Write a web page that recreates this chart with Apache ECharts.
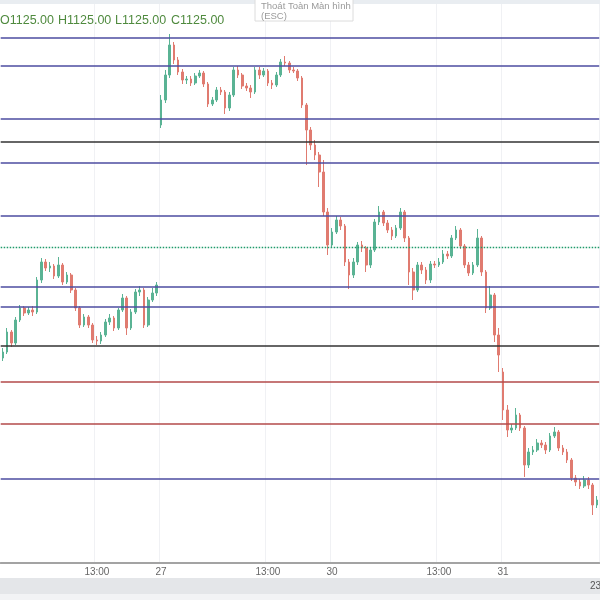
<!DOCTYPE html>
<html><head><meta charset="utf-8">
<script src="https://cdn.jsdelivr.net/npm/echarts@6/dist/echarts.min.js"></script>
<style>html,body{margin:0;padding:0;background:#fff}#c{width:600px;height:600px}</style>
</head><body><div id="c"></div>
<script>
// ---- categories: 6-minute candles, sessions 09:00-11:30 and 13:00-14:30
const dayNames = ['26', '27', '30', '31'];
const morningSlots = 25, afternoonSlots = 15, slotMinutes = 6;
const firstSlotDay26 = 3, lastSlotDay31 = 22;

// ---- candles [open, close, low, high]
const day26 = [
[1102.8,1104.0,1102.2,1104.8],[1104.0,1108.0,1103.6,1108.8],[1108.0,1105.8,1105.0,1108.4],
[1105.8,1110.4,1105.4,1111.0],[1110.4,1112.8,1110.0,1113.4],[1112.8,1111.8,1111.2,1113.2],
[1111.8,1112.4,1111.4,1113.0],[1112.4,1112.0,1111.2,1113.2],[1112.0,1118.4,1111.6,1119.0],
[1118.4,1122.0,1117.8,1122.8],[1122.0,1120.8,1120.2,1122.6],[1120.8,1121.2,1120.0,1122.0],
[1121.2,1119.2,1118.6,1121.6],[1119.2,1121.4,1118.8,1123.0],[1121.4,1118.0,1117.4,1121.8],
[1118.0,1119.4,1117.6,1120.0],[1119.4,1116.4,1115.8,1119.8],[1116.4,1112.8,1112.2,1116.8],
[1112.8,1109.4,1108.8,1113.2],[1109.4,1111.0,1109.0,1111.6],[1111.0,1109.4,1108.8,1111.4],
[1109.4,1106.4,1105.8,1109.8],[1106.4,1106.2,1105.4,1107.2],[1106.2,1107.4,1105.6,1108.0],
[1107.4,1110.0,1107.0,1110.6],[1110.0,1110.8,1109.4,1111.6],[1110.8,1108.8,1108.2,1111.2],
[1108.8,1112.4,1108.4,1112.8],[1112.4,1114.8,1112.0,1115.6],[1114.8,1108.8,1107.4,1115.2],
[1108.8,1112.0,1108.4,1112.6],[1112.0,1116.0,1111.6,1116.6],[1116.0,1116.4,1115.2,1117.2],
[1116.4,1109.4,1108.8,1116.8],[1109.4,1114.4,1109.0,1115.0],[1114.4,1115.8,1114.0,1116.8],
[1115.8,1117.4,1115.2,1118.0]
];
const day27 = [
[1149.4,1154.4,1148.8,1155.4],[1154.4,1159.4,1153.8,1160.4],[1159.4,1165.4,1158.8,1167.6],
[1165.4,1162.4,1161.6,1166.0],[1162.4,1160.0,1159.4,1163.0],[1160.0,1158.4,1157.6,1160.6],
[1158.4,1158.6,1157.6,1159.2],[1158.6,1157.8,1157.2,1159.2],[1157.8,1159.2,1157.4,1159.8],
[1159.2,1159.8,1158.8,1160.4],[1159.8,1157.6,1157.0,1160.2],[1157.6,1153.6,1153.0,1158.0],
[1153.6,1154.4,1153.2,1155.0],[1154.4,1156.4,1154.0,1157.0],[1156.4,1156.0,1155.4,1157.0],
[1156.0,1152.8,1151.6,1156.4],[1152.8,1155.4,1152.2,1156.0],[1155.4,1160.4,1155.0,1161.0],
[1160.4,1159.4,1158.8,1161.2],[1159.4,1157.2,1156.6,1159.8],[1157.2,1156.8,1156.2,1157.8],
[1156.8,1156.0,1154.8,1157.4],[1156.0,1160.4,1155.6,1161.0],[1160.4,1159.4,1158.6,1161.0],
[1159.4,1160.2,1159.0,1160.8],[1160.2,1157.8,1157.2,1160.6],[1157.8,1157.4,1156.6,1158.4],
[1157.4,1159.4,1157.0,1160.0],[1159.4,1162.0,1159.0,1162.6],[1162.0,1161.8,1161.2,1163.2],
[1161.8,1160.4,1159.8,1162.2],[1160.4,1160.2,1159.8,1161.0],[1160.2,1158.8,1158.2,1160.6],
[1158.8,1153.4,1152.8,1159.2],[1153.4,1148.4,1141.4,1153.8],[1148.4,1145.4,1144.4,1149.0],
[1145.4,1143.4,1142.4,1146.4],[1143.4,1140.0,1137.0,1144.0],[1140.0,1132.0,1131.2,1142.4],
[1132.0,1125.4,1123.4,1132.8]
];
const day30 = [
[1125.4,1128.0,1124.8,1128.8],[1128.0,1130.4,1127.6,1131.2],[1130.4,1129.2,1128.4,1131.0],
[1129.2,1122.0,1121.2,1129.6],[1122.0,1119.4,1116.6,1122.6],[1119.4,1122.0,1118.8,1122.8],
[1122.0,1125.4,1121.4,1126.0],[1125.4,1124.8,1124.0,1126.2],[1124.8,1121.4,1120.0,1125.2],
[1121.4,1124.4,1120.8,1125.0],[1124.4,1130.0,1124.0,1130.6],[1130.0,1132.0,1129.4,1133.2],
[1132.0,1129.8,1129.2,1132.4],[1129.8,1128.4,1127.8,1130.4],[1128.4,1127.2,1126.4,1129.0],
[1127.2,1128.8,1126.8,1129.4],[1128.8,1132.0,1128.4,1132.8],[1132.0,1126.8,1126.0,1132.4],
[1126.8,1120.0,1117.4,1127.2],[1120.0,1116.4,1114.4,1120.8],[1116.4,1121.4,1116.0,1122.0],
[1121.4,1120.4,1119.6,1122.0],[1120.4,1118.4,1117.6,1121.0],[1118.4,1121.6,1117.8,1122.2],
[1121.6,1121.4,1120.8,1122.2],[1121.4,1122.0,1121.0,1122.8],[1122.0,1123.6,1121.6,1124.4],
[1123.6,1123.2,1122.6,1124.2],[1123.2,1126.8,1122.8,1127.4],[1126.8,1128.4,1126.4,1129.2],
[1128.4,1125.2,1124.6,1128.8],[1125.2,1121.4,1120.8,1125.6],[1121.4,1119.8,1119.2,1122.0],
[1119.8,1121.4,1119.4,1122.0],[1121.4,1126.8,1121.0,1128.6],[1126.8,1120.0,1119.2,1127.2],
[1120.0,1112.8,1111.8,1120.4],[1112.8,1115.4,1112.4,1117.2],[1115.4,1107.4,1106.0,1115.8],
[1107.4,1103.4,1100.0,1108.8]
];
const day31 = [
[1100.0,1092.4,1090.4,1100.8],[1092.4,1088.4,1087.0,1093.4],[1088.4,1088.8,1087.8,1089.6],
[1088.8,1091.4,1088.4,1092.8],[1091.4,1088.8,1088.2,1091.8],[1088.8,1081.4,1079.0,1089.2],
[1081.4,1084.0,1080.8,1084.8],[1084.0,1084.4,1083.4,1085.2],[1084.4,1085.8,1084.0,1086.6],
[1085.8,1085.4,1084.8,1086.4],[1085.4,1084.4,1083.6,1086.0],[1084.4,1087.2,1084.0,1087.8],
[1087.2,1088.0,1086.8,1089.0],[1088.0,1084.8,1084.2,1088.4],[1084.8,1084.0,1083.4,1085.4],
[1084.0,1082.4,1081.8,1084.6],[1082.4,1078.8,1078.2,1082.8],[1078.8,1078.0,1077.2,1079.4],
[1078.0,1077.2,1076.6,1078.6],[1077.2,1078.4,1076.8,1079.2],[1078.4,1077.4,1076.6,1079.0],
[1077.4,1073.4,1071.4,1077.8],[1073.4,1074.4,1072.8,1075.2]
];

// ---- horizontal levels
const levelPrices = [1166.8, 1161.2, 1150.6, 1146.0, 1141.8, 1131.2, 1125.0, 1117.0, 1113.0, 1105.2, 1098.0, 1089.6, 1078.6];
const levelKinds  = ['blue','blue','blue','black','blue','blue','last','blue','blue','black','red','red','blue'];
const lastPrice = '1125.00';

// ---- build categories
function slotTime(s) {
  let m = s < morningSlots ? 9 * 60 + s * slotMinutes : 13 * 60 + (s - morningSlots) * slotMinutes;
  const h = Math.floor(m / 60), mm = m % 60;
  return (h < 10 ? '0' : '') + h + ':' + (mm < 10 ? '0' : '') + mm;
}
const categories = [];
dayNames.forEach((d, di) => {
  const first = di === 0 ? firstSlotDay26 : 0;
  const last = di === dayNames.length - 1 ? lastSlotDay31 : morningSlots + afternoonSlots - 1;
  for (let s = first; s <= last; s++) categories.push(d + ' ' + slotTime(s));
});
const ohlc = [].concat(day26, day27, day30, day31);

const isLabel = (i, v) => { const t = (v || categories[i]).split(' ')[1]; return t === '09:00' || t === '13:00'; };
const fmt = v => { const p = v.split(' '); return p[1] === '09:00' ? p[0] : p[1]; };

const levelStyle = {
  blue:  { color: '#4d4da0', width: 1.5, type: 'solid' },
  black: { color: '#333333', width: 1.5, type: 'solid' },
  red:   { color: '#b34a4a', width: 1.5, type: 'solid' },
  last:  { color: '#1f9a6a', width: 1.4, type: [1.5, 1.5] }
};

const chart = echarts.init(document.getElementById('c'));
chart.setOption({
  animation: false,
  backgroundColor: '#ffffff',
  grid: { left: 0.7, right: 0.8, top: 0, bottom: 37 },
  xAxis: {
    type: 'category', data: categories, boundaryGap: true,
    axisLine: { lineStyle: { color: '#a3a3a3', width: 2 } },
    axisTick: { alignWithLabel: true, length: 3, interval: isLabel, lineStyle: { color: '#8a8a8a' } },
    axisLabel: { interval: isLabel, formatter: fmt, color: '#666', fontSize: 10, margin: 4, fontFamily: 'Liberation Sans' },
    splitLine: { show: true, interval: isLabel, lineStyle: { color: '#f0f1f4' } }
  },
  yAxis: { type: 'value', min: 1061.8, max: 1174.4, show: false, splitLine: { show: false } },
  series: [{
    type: 'candlestick', data: ohlc, barWidth: '50%',
    itemStyle: { color: '#5ab394', color0: '#e07b70', borderColor: '#5ab394', borderColor0: '#e07b70', borderWidth: 1 },
    markLine: {
      silent: true, symbol: ['none', 'none'], label: { show: false }, animation: false,
      data: levelPrices.map((p, i) => ({ yAxis: p, lineStyle: levelStyle[levelKinds[i]] }))
    }
  }],
  graphic: [
    { type: 'rect', z: 100, shape: { x: 0, y: 0, width: 600, height: 4 }, style: { fill: '#e9edf1' } },
    { type: 'group', z: 100, children: ['O', 'H', 'L', 'C'].map((k, i) => ({
        type: 'text', x: [0, 58, 115, 171][i], y: 21,
        style: { text: k + lastPrice, fill: '#4f8a3e', font: '12.5px "Liberation Sans"', textVerticalAlign: 'middle' }
      })) },
    { type: 'rect', z: 100, shape: { x: 255, y: -5, width: 98, height: 26 }, style: { fill: '#ffffff', stroke: '#dcdcdc', lineWidth: 1 } },
    { type: 'text', z: 101, x: 261, y: 6, style: { text: 'Thoát Toàn Màn hình', fill: '#9a9a9a', font: '9.5px "Liberation Sans"', textVerticalAlign: 'middle' } },
    { type: 'text', z: 101, x: 261, y: 16, style: { text: '(ESC)', fill: '#9a9a9a', font: '9.5px "Liberation Sans"', textVerticalAlign: 'middle' } },
    { type: 'rect', z: 100, shape: { x: 0, y: 578, width: 600, height: 16 }, style: { fill: '#e4e6e9' } },
    { type: 'rect', z: 100, shape: { x: 0, y: 594, width: 600, height: 6 }, style: { fill: '#f2f3f5' } },
    { type: 'text', z: 101, x: 590, y: 586, style: { text: '23', fill: '#555', font: '10px "Liberation Sans"', textVerticalAlign: 'middle' } }
  ]
});
</script></body></html>
